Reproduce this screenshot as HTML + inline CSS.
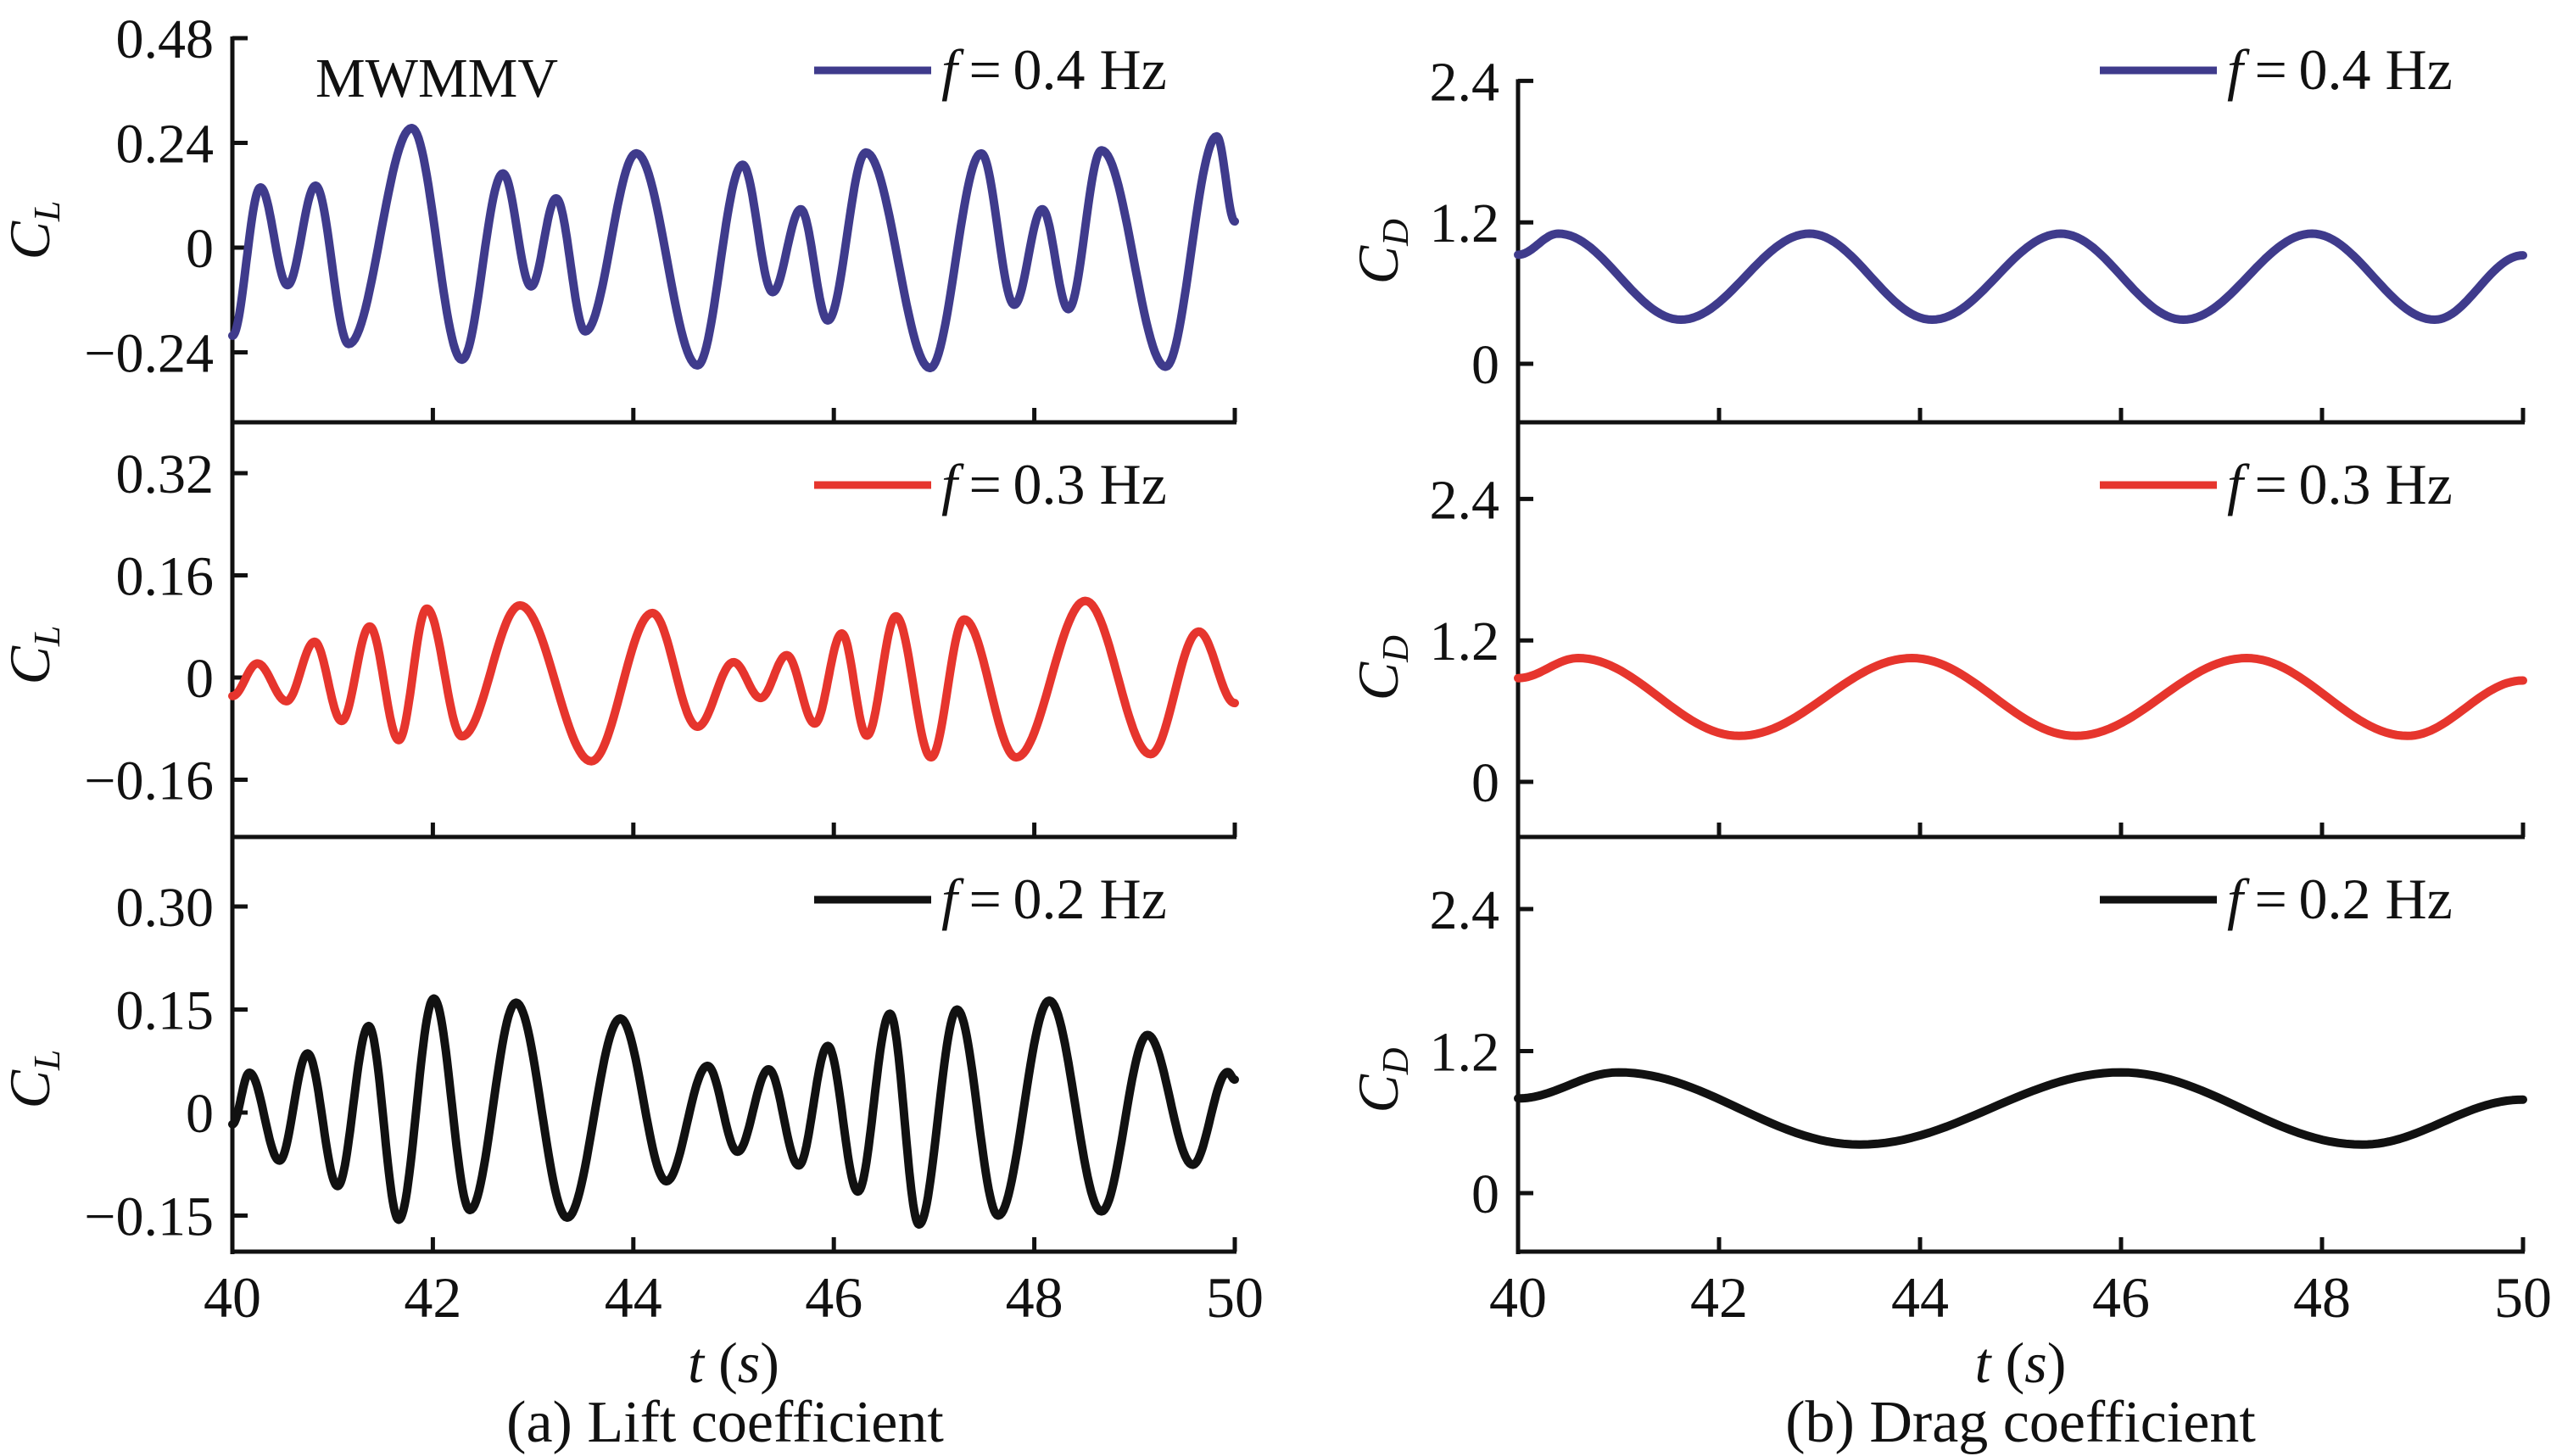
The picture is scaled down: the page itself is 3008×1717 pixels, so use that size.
<!DOCTYPE html>
<html><head><meta charset="utf-8"><style>
html,body{margin:0;padding:0;background:#fff;}
svg{display:block;}
text{font-family:"Liberation Serif","DejaVu Serif",serif;fill:#111;}
</style></head><body>
<svg id="fig" width="3008" height="1717" viewBox="0 0 3008 1717" xmlns="http://www.w3.org/2000/svg" font-family="Liberation Serif, serif">
<g id="layer"></g>
</svg>
<script>
// ---- data (extrema) ----
const xTicks = [40, 42, 44, 46, 48, 50];
const liftT1 = [40,40.28,40.55,40.83,41.16,41.79,42.29,42.70,42.98,43.23,43.52,44.03,44.64,45.09,45.39,45.67,45.94,46.32,46.96,47.47,47.80,48.08,48.34,48.67,49.31,49.82,50];
const liftV1 = [-0.202,0.138,-0.086,0.142,-0.221,0.274,-0.257,0.170,-0.089,0.113,-0.192,0.216,-0.270,0.190,-0.102,0.088,-0.167,0.218,-0.276,0.216,-0.131,0.088,-0.141,0.223,-0.273,0.255,0.06];
const liftT2 = [40,40.25,40.54,40.82,41.09,41.37,41.66,41.94,42.29,42.87,43.58,44.19,44.64,45.0,45.27,45.53,45.81,46.08,46.33,46.62,46.97,47.30,47.82,48.51,49.16,49.64,50];
const liftV2 = [-0.029,0.022,-0.037,0.056,-0.068,0.080,-0.098,0.108,-0.092,0.113,-0.131,0.101,-0.077,0.024,-0.032,0.035,-0.072,0.069,-0.091,0.096,-0.125,0.091,-0.125,0.120,-0.120,0.072,-0.04];
const liftT3 = [40,40.17,40.47,40.75,41.05,41.36,41.66,42.01,42.37,42.83,43.34,43.87,44.33,44.74,45.04,45.35,45.65,45.94,46.24,46.56,46.85,47.23,47.64,48.15,48.67,49.13,49.58,49.93,50];
const liftV3 = [-0.017,0.058,-0.070,0.086,-0.107,0.126,-0.156,0.166,-0.142,0.160,-0.153,0.137,-0.100,0.068,-0.057,0.063,-0.077,0.097,-0.115,0.144,-0.163,0.150,-0.150,0.163,-0.144,0.113,-0.076,0.059,0.048];
const dragT1 = [40,40.4,41.62,42.9,44.12,45.4,46.62,47.9,49.12,50];
const dragV1 = [0.925,1.104,0.374,1.104,0.374,1.104,0.374,1.104,0.374,0.92];
const dragT2 = [40,40.6,42.2,43.92,45.55,47.25,48.85,50];
const dragV2 = [0.88,1.05,0.39,1.05,0.39,1.05,0.39,0.86];
const dragT3 = [40,41.0,43.4,46.0,48.4,50];
const dragV3 = [0.80,1.02,0.41,1.02,0.41,0.79];
const liftTicks1 = [0.48,0.24,0,-0.24];
const liftTicks2 = [0.32,0.16,0,-0.16];
const liftTicks3 = [0.30,0.15,0,-0.15];
const dragTicks = [2.4,1.2,0];
const liftTickLabels1 = ["0.48","0.24","0","\u22120.24"];
const liftTickLabels2 = ["0.32","0.16","0","\u22120.16"];
const liftTickLabels3 = ["0.30","0.15","0","\u22120.15"];
const dragTickLabels = ["2.4","1.2","0"];
const legendLabels = ["0.4","0.3","0.2"];

const NS = "http://www.w3.org/2000/svg";
const layer = document.getElementById('layer');
function mk(tag, attrs, parent){
  const e = document.createElementNS(NS, tag);
  for (const k in attrs) e.setAttribute(k, attrs[k]);
  if (tag === 'text') e.setAttribute('font-family', 'Liberation Serif, serif');
  (parent||layer).appendChild(e);
  return e;
}
const COLORS = ["#3f3b8c","#e6352d","#111111"];
const bounds = [498, 987, 1476];

const left = {x0:274, x1:1456};
const right = {x0:1790, x1:2975};
function xs(col, t){ return col.x0 + (t-40)/10*(col.x1-col.x0); }

const liftPanels = [
  {zero:292, per:123.5/0.24, ticks:liftTicks1, labels:liftTickLabels1, T:liftT1, V:liftV1, leg:83},
  {zero:799, per:120.5/0.16, ticks:liftTicks2, labels:liftTickLabels2, T:liftT2, V:liftV2, leg:572},
  {zero:1312, per:121.5/0.15, ticks:liftTicks3, labels:liftTickLabels3, T:liftT3, V:liftV3, leg:1061}
];
const dragPanels = [
  {zero:429, per:139, ticks:dragTicks, labels:dragTickLabels, T:dragT1, V:dragV1, leg:83},
  {zero:922, per:139, ticks:dragTicks, labels:dragTickLabels, T:dragT2, V:dragV2, leg:572},
  {zero:1407, per:139.6, ticks:dragTicks, labels:dragTickLabels, T:dragT3, V:dragV3, leg:1061}
];

function curvePath(col, p, T, V){
  let d = "";
  for (let i=0;i<T.length-1;i++){
    const n = 30;
    for (let k=(i===0?0:1);k<=n;k++){
      const s = k/n;
      const t = T[i] + (T[i+1]-T[i])*s;
      const v = V[i] + (V[i+1]-V[i])*(1-Math.cos(Math.PI*s))/2;
      const X = xs(col,t), Y = p.zero - v*p.per;
      d += (d===""?"M":"L") + X.toFixed(1) + " " + Y.toFixed(1) + " ";
    }
  }
  return d;
}

function drawColumn(col, panels, kind, labelRight, yLabX, sub){
  const topTickY = panels[0].zero - panels[0].ticks[0]*panels[0].per;
  const ya = mk('line',{x1:col.x0,y1:topTickY-2,x2:col.x0,y2:bounds[2]+3,stroke:"#111","stroke-width":5});
  
  
  panels.forEach((p,pi)=>{
    const xa = mk('line',{x1:col.x0-2,y1:bounds[pi],x2:col.x1+2,y2:bounds[pi],stroke:"#111","stroke-width":5});
    
    
    xTicks.forEach(t=>{
      if (t===40) return;
      const tk = mk('line',{x1:xs(col,t),y1:bounds[pi],x2:xs(col,t),y2:bounds[pi]-17,stroke:"#111","stroke-width":5});
      
      
    });
    p.ticks.forEach((v,i)=>{
      const y = p.zero - v*p.per;
      const tk = mk('line',{x1:col.x0,y1:y,x2:col.x0+18,y2:y,stroke:"#111","stroke-width":5});
      
      
      const tl = mk('text',{x:labelRight,y:y+23,"font-size":66,"text-anchor":"end"});
      tl.textContent = p.labels[i];
      
      
    });
    const midY = (p.zero - p.ticks[0]*p.per + bounds[pi])/2;
    const yl = mk('text',{x:yLabX,y:midY,"font-size":68,"font-style":"italic","text-anchor":"middle",transform:`rotate(-90 ${yLabX} ${midY})`});
    
    
    const c = mk('tspan',{},yl); c.textContent = "C";
    const s = mk('tspan',{"font-size":44,dy:12},yl); s.textContent = sub;
    const path = mk('path',{d:curvePath(col,p,p.T,p.V),fill:"none",stroke:COLORS[pi],"stroke-width":10,"stroke-linejoin":"round","stroke-linecap":"round"});
    
    
    const lx = col.x0 + 686;
    const ll = mk('line',{x1:lx,y1:p.leg,x2:lx+138,y2:p.leg,stroke:COLORS[pi],"stroke-width":9});
    
    
    const lt = mk('text',{x:lx+150,y:p.leg+22,"font-size":68});
    
    
    const f = mk('tspan',{"font-style":"italic"},lt); f.textContent = "f";
    const r = mk('tspan',{},lt); r.textContent = "\u2009=\u2009" + legendLabels[pi] + " Hz";
  });
  xTicks.forEach(t=>{
    const tl = mk('text',{x:xs(col,t),y:1553,"font-size":68,"text-anchor":"middle"});
    tl.textContent = String(t);
    
    
  });
  const cx = (col.x0+col.x1)/2;
  const xt = mk('text',{x:cx,y:1630,"font-size":68,"text-anchor":"middle"});
  
  
  const ti = mk('tspan',{"font-style":"italic"},xt); ti.textContent = "t";
  const t2 = mk('tspan',{},xt); t2.textContent = " (";
  const t3 = mk('tspan',{"font-style":"italic"},xt); t3.textContent = "s";
  const t4 = mk('tspan',{},xt); t4.textContent = ")";
}
drawColumn(left, liftPanels, 'lift', 252, 58, "L");
drawColumn(right, dragPanels, 'drag', 1768, 1648, "D");

const mw = mk('text',{x:372,y:114,"font-size":66});
mw.textContent = "MWMMV";


const capA = mk('text',{x:(left.x0+left.x1)/2 - 10,y:1700,"font-size":70,"text-anchor":"middle"});
capA.textContent = "(a) Lift coefficient";


const capB = mk('text',{x:(right.x0+right.x1)/2,y:1700,"font-size":70,"text-anchor":"middle"});
capB.textContent = "(b) Drag coefficient";


</script>
</body></html>
